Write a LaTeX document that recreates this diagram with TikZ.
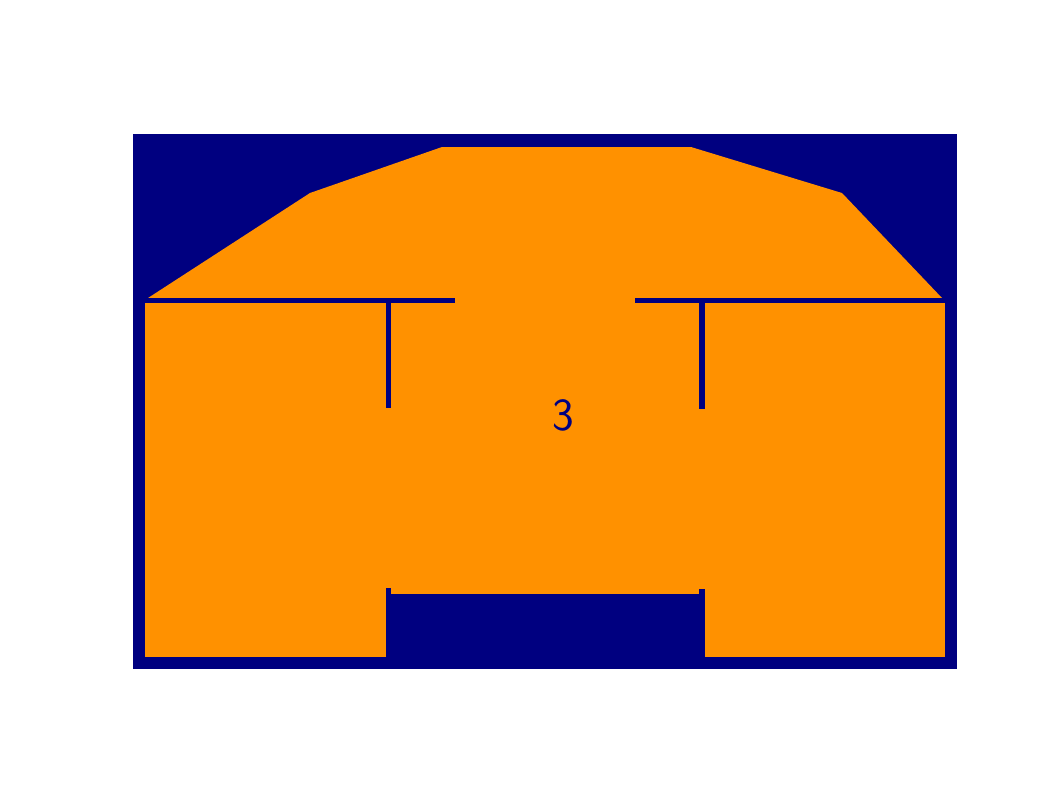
\documentclass[tikz,border=0pt]{standalone}
\usepackage{fontspec}
\definecolor{wallnavy}{RGB}{0,0,128}
\definecolor{roomorange}{RGB}{255,145,0}
\begin{document}
\begin{tikzpicture}[x=1pt,y=-1pt,
  wall/.style={fill=wallnavy},
  room/.style={fill=roomorange}]
\useasboundingbox (0,0) rectangle (1062,796);
% background (walls)
\fill[wall] (133,134) rectangle (957,669);
% upper roof room
\fill[room] (148,298) -- (310,193) -- (442,147) -- (691,147) -- (842,193) -- (942,298) -- cycle;
% lower rooms
\fill[room] (145,298) rectangle (945,657);
% bottom opening (navy)
\fill[wall] (391,594) rectangle (699,669);
\fill[wall] (386,588) rectangle (391,669);
\fill[wall] (699,589) rectangle (705,669);
% horizontal walls
\fill[wall] (145,298) rectangle (455,303);
\fill[wall] (635,298) rectangle (945,303);
% vertical walls
\fill[wall] (386,298) rectangle (391,408);
\fill[wall] (699,298) rectangle (705,409);
% label
\node[text=wallnavy, font=\sffamily\fontsize{46}{46}\selectfont, inner sep=0pt] (lbl) at (563,415) {3};
\end{tikzpicture}
\end{document}
